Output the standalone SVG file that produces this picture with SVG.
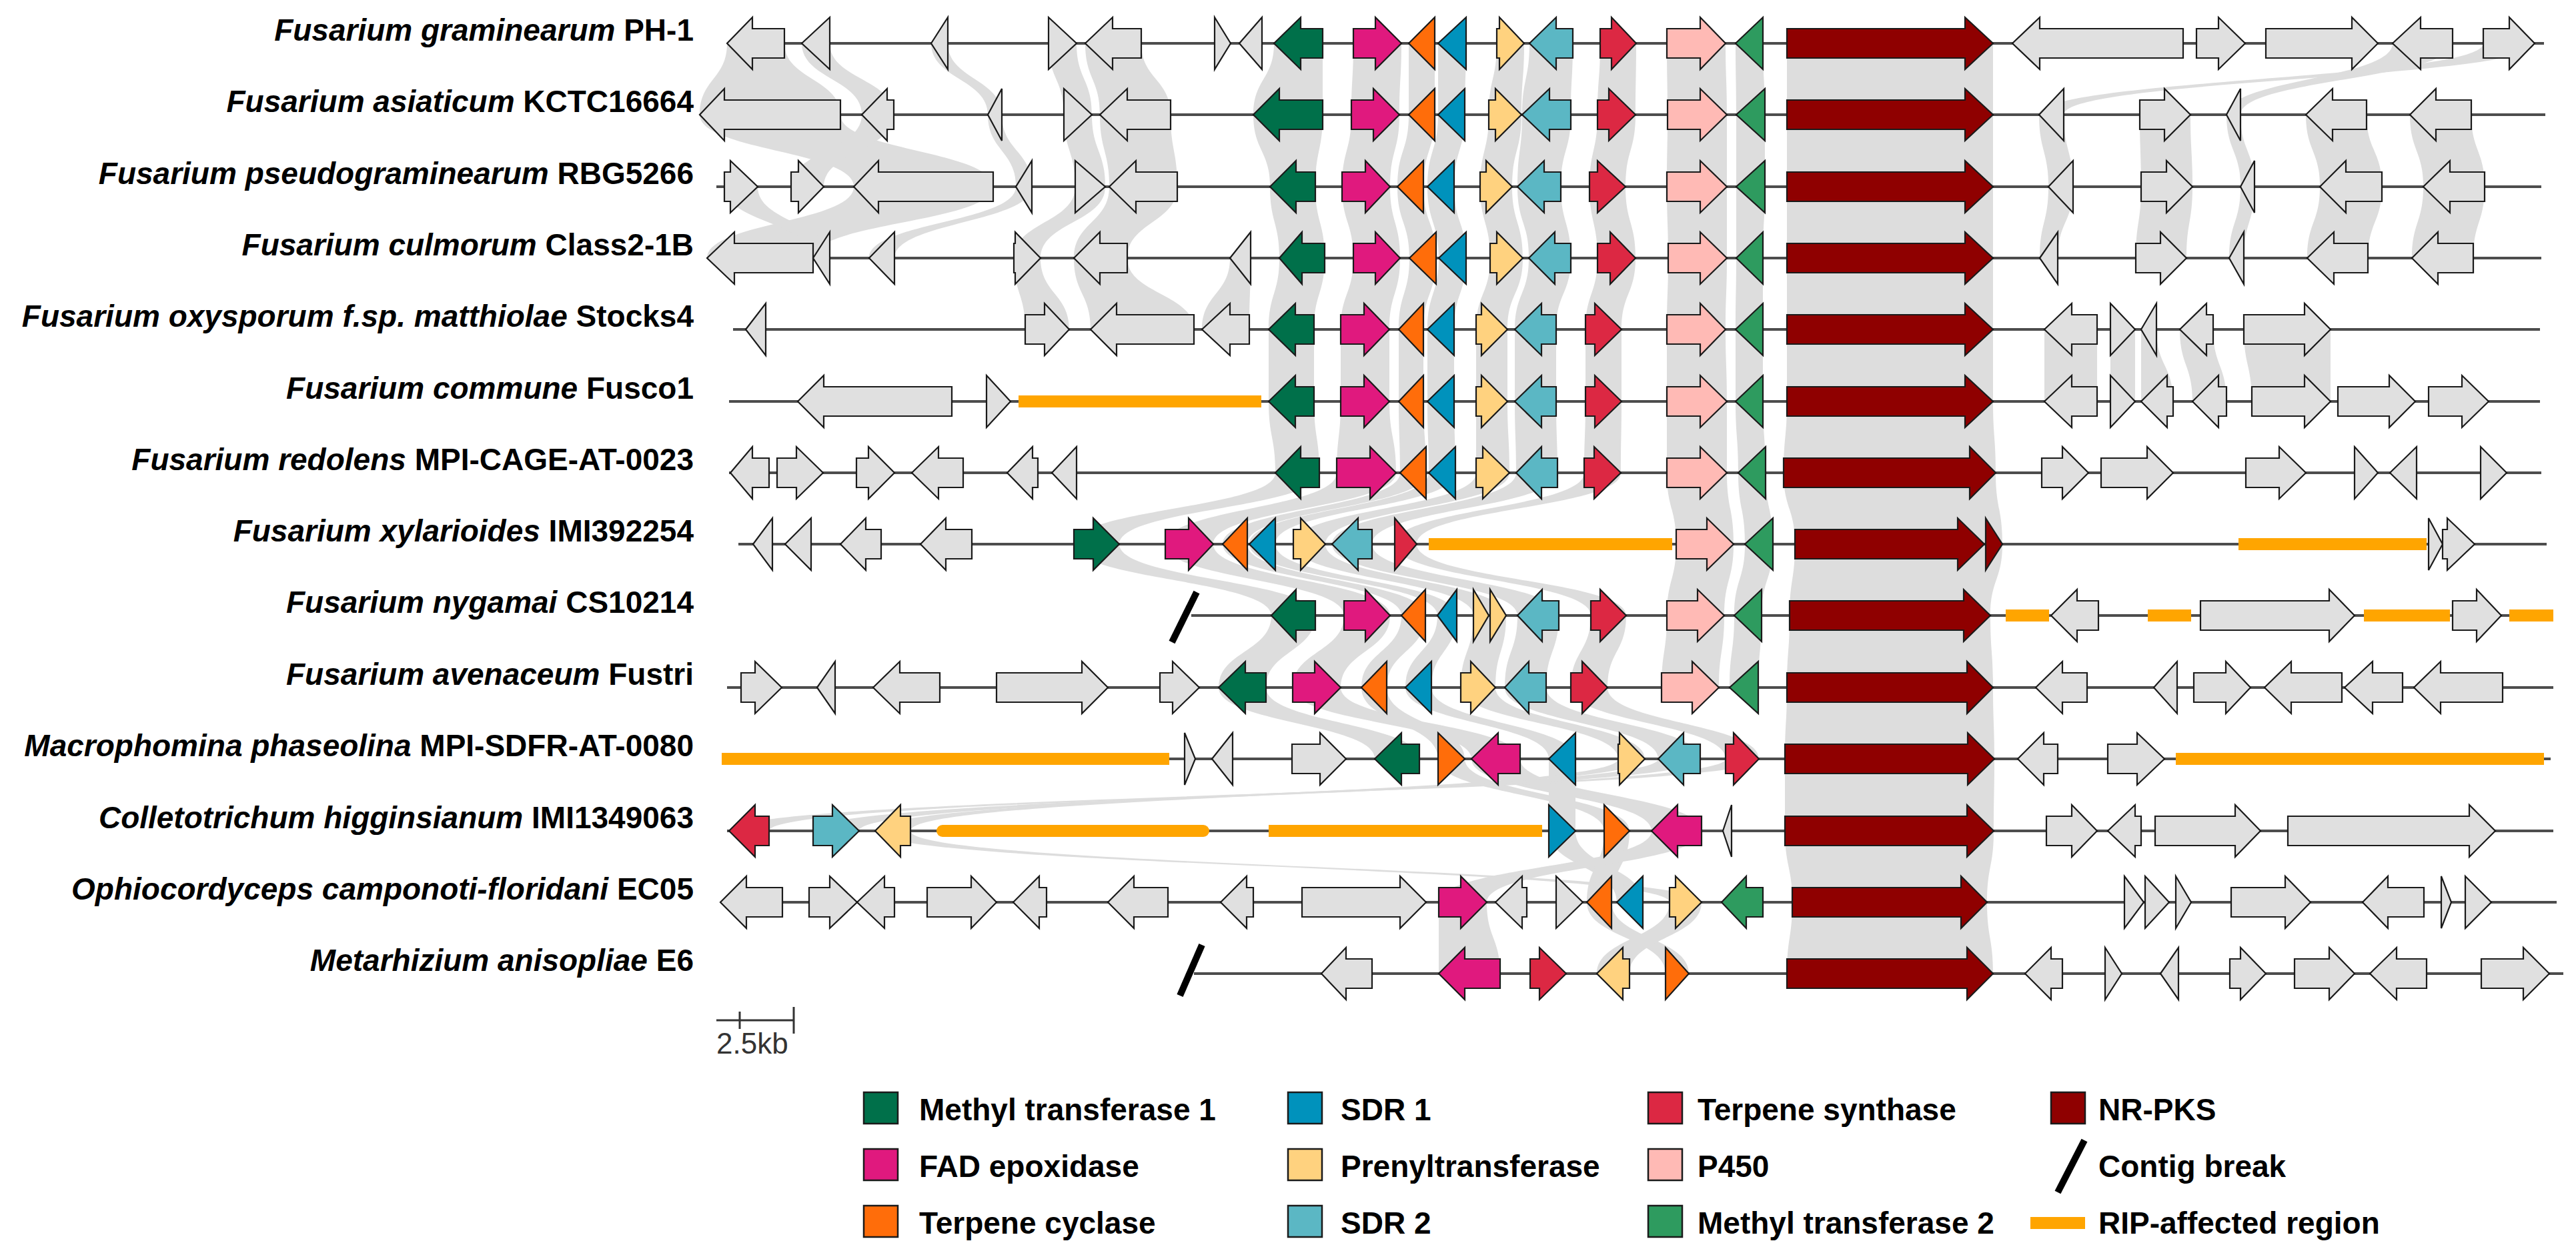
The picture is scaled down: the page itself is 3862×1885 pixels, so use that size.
<svg xmlns="http://www.w3.org/2000/svg" width="3862" height="1885" viewBox="0 0 3862 1885">
<style>
text{font-family:"Liberation Sans",Arial,sans-serif;fill:#000}
.lab{font-size:46px;font-weight:bold;text-anchor:end}
.leg{font-size:46px;font-weight:bold}
.bb{stroke:#4d4d4d;stroke-width:4}
.gene path{stroke:#1a1a1a;stroke-width:2.2;stroke-linejoin:miter}
.g{fill:#e0e0e0}.mt1{fill:#00704a}.fad{fill:#e0197e}.tc{fill:#ff6d0a}.sdr1{fill:#0092bc}.pt{fill:#ffd27f}.sdr2{fill:#5bb7c4}.ts{fill:#dc2843}.p450{fill:#ffbab5}.mt2{fill:#2e9b5f}.pks{fill:#8f0000}
.rip{fill:#ffa500}
.brk{stroke:#000;stroke-width:10}
.band path{fill:#dddddd}
.sw{stroke:#1a1a1a;stroke-width:2.5}
</style>

<g id="connectors" class="band">
<path d="M1090 65H1176C1176 118.5 1260 118.5 1260 172H1049C1049 118.5 1090 118.5 1090 65Z"/>
<path d="M1202 65H1244C1244 118.5 1340 118.5 1340 172H1292C1292 118.5 1202 118.5 1202 65Z"/>
<path d="M1396 65H1421C1421 118.5 1502 118.5 1502 172H1481C1481 118.5 1396 118.5 1396 65Z"/>
<path d="M1572 65H1614C1614 118.5 1637 118.5 1637 172H1595C1595 118.5 1572 118.5 1572 65Z"/>
<path d="M1627 65H1711C1711 118.5 1755 118.5 1755 172H1649C1649 118.5 1627 118.5 1627 65Z"/>
<path d="M1910 65H1983V172H1879C1879 118.5 1910 118.5 1910 65Z"/>
<path d="M2029 65H2101C2101 118.5 2098 118.5 2098 172H2026C2026 118.5 2029 118.5 2029 65Z"/>
<path d="M2112 65H2151V172H2112Z"/>
<path d="M2156 65H2198C2198 118.5 2196 118.5 2196 172H2156Z"/>
<path d="M2244 65H2285C2285 118.5 2281 118.5 2281 172H2232C2232 118.5 2244 118.5 2244 65Z"/>
<path d="M2293 65H2358C2358 118.5 2355 118.5 2355 172H2282C2282 118.5 2293 118.5 2293 65Z"/>
<path d="M2399 65H2453C2453 118.5 2452 118.5 2452 172H2395C2395 118.5 2399 118.5 2399 65Z"/>
<path d="M2499 65H2587C2587 118.5 2589 118.5 2589 172H2500C2500 118.5 2499 118.5 2499 65Z"/>
<path d="M2602 65H2643C2643 118.5 2646 118.5 2646 172H2603C2603 118.5 2602 118.5 2602 65Z"/>
<path d="M2679 65H2988V172H2679Z"/>
<path d="M3723 65H3800C3800 118.5 3094 118.5 3094 172H3057C3057 118.5 3723 118.5 3723 65Z"/>
<path d="M3587 65H3677C3677 118.5 3359 118.5 3359 172H3338C3338 118.5 3587 118.5 3587 65Z"/>

<path d="M1049 172H1260C1260 226 1489 226 1489 280H1280C1280 226 1049 226 1049 172Z"/>
<path d="M1292 172H1340C1340 226 1235 226 1235 280H1186C1186 226 1292 226 1292 172Z"/>
<path d="M1481 172H1502C1502 226 1547 226 1547 280H1523C1523 226 1481 226 1481 172Z"/>
<path d="M1595 172H1637C1637 226 1657 226 1657 280H1612C1612 226 1595 226 1595 172Z"/>
<path d="M1649 172H1755C1755 226 1765 226 1765 280H1663C1663 226 1649 226 1649 172Z"/>
<path d="M1879 172H1983C1983 226 1972 226 1972 280H1904C1904 226 1879 226 1879 172Z"/>
<path d="M2026 172H2098C2098 226 2084 226 2084 280H2012C2012 226 2026 226 2026 172Z"/>
<path d="M2112 172H2151C2151 226 2134 226 2134 280H2095C2095 226 2112 226 2112 172Z"/>
<path d="M2156 172H2196C2196 226 2180 226 2180 280H2140C2140 226 2156 226 2156 172Z"/>
<path d="M2232 172H2281C2281 226 2267 226 2267 280H2219C2219 226 2232 226 2232 172Z"/>
<path d="M2282 172H2355C2355 226 2340 226 2340 280H2275C2275 226 2282 226 2282 172Z"/>
<path d="M2395 172H2452C2452 226 2437 226 2437 280H2383C2383 226 2395 226 2395 172Z"/>
<path d="M2500 172H2589V280H2499C2499 226 2500 226 2500 172Z"/>
<path d="M2603 172H2646V280H2603Z"/>
<path d="M2679 172H2988V280H2679Z"/>
<path d="M3057 172H3094C3094 226 3108 226 3108 280H3071C3071 226 3057 226 3057 172Z"/>
<path d="M3208 172H3284C3284 226 3287 226 3287 280H3210C3210 226 3208 226 3208 172Z"/>
<path d="M3338 172H3359C3359 226 3380 226 3380 280H3359C3359 226 3338 226 3338 172Z"/>
<path d="M3457 172H3548C3548 226 3571 226 3571 280H3478C3478 226 3457 226 3457 172Z"/>
<path d="M3613 172H3705C3705 226 3725 226 3725 280H3633C3633 226 3613 226 3613 172Z"/>

<path d="M1280 280H1489C1489 333.5 1219 333.5 1219 387H1060C1060 333.5 1280 333.5 1280 280Z"/>
<path d="M1086 280H1136C1136 333.5 1244 333.5 1244 387H1219C1219 333.5 1086 333.5 1086 280Z"/>
<path d="M1523 280H1547C1547 333.5 1341 333.5 1341 387H1303C1303 333.5 1523 333.5 1523 280Z"/>
<path d="M1612 280H1657C1657 333.5 1560 333.5 1560 387H1520C1520 333.5 1612 333.5 1612 280Z"/>
<path d="M1663 280H1765C1765 333.5 1690 333.5 1690 387H1610C1610 333.5 1663 333.5 1663 280Z"/>
<path d="M1904 280H1972C1972 333.5 1986 333.5 1986 387H1918C1918 333.5 1904 333.5 1904 280Z"/>
<path d="M2012 280H2084C2084 333.5 2099 333.5 2099 387H2029C2029 333.5 2012 333.5 2012 280Z"/>
<path d="M2095 280H2134C2134 333.5 2153 333.5 2153 387H2113C2113 333.5 2095 333.5 2095 280Z"/>
<path d="M2140 280H2180C2180 333.5 2198 333.5 2198 387H2157C2157 333.5 2140 333.5 2140 280Z"/>
<path d="M2219 280H2267C2267 333.5 2283 333.5 2283 387H2234C2234 333.5 2219 333.5 2219 280Z"/>
<path d="M2275 280H2340C2340 333.5 2355 333.5 2355 387H2292C2292 333.5 2275 333.5 2275 280Z"/>
<path d="M2383 280H2437C2437 333.5 2452 333.5 2452 387H2395C2395 333.5 2383 333.5 2383 280Z"/>
<path d="M2499 280H2589V387H2501C2501 333.5 2499 333.5 2499 280Z"/>
<path d="M2603 280H2646C2646 333.5 2643 333.5 2643 387H2603Z"/>
<path d="M2679 280H2988V387H2679Z"/>
<path d="M3071 280H3108C3108 333.5 3085 333.5 3085 387H3058C3058 333.5 3071 333.5 3071 280Z"/>
<path d="M3210 280H3287C3287 333.5 3278 333.5 3278 387H3202C3202 333.5 3210 333.5 3210 280Z"/>
<path d="M3359 280H3380C3380 333.5 3364 333.5 3364 387H3342C3342 333.5 3359 333.5 3359 280Z"/>
<path d="M3478 280H3571C3571 333.5 3550 333.5 3550 387H3459C3459 333.5 3478 333.5 3478 280Z"/>
<path d="M3633 280H3725C3725 333.5 3708 333.5 3708 387H3616C3616 333.5 3633 333.5 3633 280Z"/>

<path d="M1520 387H1560C1560 440.5 1603 440.5 1603 494H1537C1537 440.5 1520 440.5 1520 387Z"/>
<path d="M1610 387H1690C1690 440.5 1790 440.5 1790 494H1635C1635 440.5 1610 440.5 1610 387Z"/>
<path d="M1844 387H1875C1875 440.5 1873 440.5 1873 494H1802C1802 440.5 1844 440.5 1844 387Z"/>
<path d="M1918 387H1986C1986 440.5 1970 440.5 1970 494H1902C1902 440.5 1918 440.5 1918 387Z"/>
<path d="M2029 387H2099C2099 440.5 2083 440.5 2083 494H2010C2010 440.5 2029 440.5 2029 387Z"/>
<path d="M2113 387H2153C2153 440.5 2134 440.5 2134 494H2097C2097 440.5 2113 440.5 2113 387Z"/>
<path d="M2157 387H2198C2198 440.5 2180 440.5 2180 494H2140C2140 440.5 2157 440.5 2157 387Z"/>
<path d="M2234 387H2283C2283 440.5 2260 440.5 2260 494H2213C2213 440.5 2234 440.5 2234 387Z"/>
<path d="M2292 387H2355C2355 440.5 2333 440.5 2333 494H2271C2271 440.5 2292 440.5 2292 387Z"/>
<path d="M2395 387H2452C2452 440.5 2431 440.5 2431 494H2377C2377 440.5 2395 440.5 2395 387Z"/>
<path d="M2501 387H2589C2589 440.5 2587 440.5 2587 494H2499C2499 440.5 2501 440.5 2501 387Z"/>
<path d="M2603 387H2643V494H2602C2602 440.5 2603 440.5 2603 387Z"/>
<path d="M2679 387H2988V494H2679Z"/>

<path d="M1902 494H1970V602H1902Z"/>
<path d="M2010 494H2083V602H2010Z"/>
<path d="M2097 494H2134V602H2097Z"/>
<path d="M2140 494H2180V602H2140Z"/>
<path d="M2213 494H2260V602H2213Z"/>
<path d="M2271 494H2333V602H2271Z"/>
<path d="M2377 494H2431V602H2377Z"/>
<path d="M2499 494H2587C2587 548 2589 548 2589 602H2499Z"/>
<path d="M2602 494H2643V602H2602Z"/>
<path d="M2679 494H2988V602H2679Z"/>
<path d="M3065 494H3144V602H3065Z"/>
<path d="M3164 494H3201V602H3164Z"/>
<path d="M3210 494H3233C3233 548 3258 548 3258 602H3210Z"/>
<path d="M3268 494H3318C3318 548 3338 548 3338 602H3287C3287 548 3268 548 3268 494Z"/>
<path d="M3364 494H3494V602H3376C3376 548 3364 548 3364 494Z"/>

<path d="M1902 602H1970C1970 655.5 1978 655.5 1978 709H1912C1912 655.5 1902 655.5 1902 602Z"/>
<path d="M2010 602H2083C2083 655.5 2093 655.5 2093 709H2004C2004 655.5 2010 655.5 2010 602Z"/>
<path d="M2097 602H2134C2134 655.5 2138 655.5 2138 709H2099C2099 655.5 2097 655.5 2097 602Z"/>
<path d="M2140 602H2180C2180 655.5 2182 655.5 2182 709H2142C2142 655.5 2140 655.5 2140 602Z"/>
<path d="M2213 602H2260C2260 655.5 2263 655.5 2263 709H2213Z"/>
<path d="M2271 602H2333C2333 655.5 2335 655.5 2335 709H2273C2273 655.5 2271 655.5 2271 602Z"/>
<path d="M2377 602H2431C2431 655.5 2430 655.5 2430 709H2375C2375 655.5 2377 655.5 2377 602Z"/>
<path d="M2499 602H2589V709H2499Z"/>
<path d="M2602 602H2643C2643 655.5 2647 655.5 2647 709H2606C2606 655.5 2602 655.5 2602 602Z"/>
<path d="M2679 602H2988C2988 655.5 2992 655.5 2992 709H2674C2674 655.5 2679 655.5 2679 602Z"/>

<path d="M1912 709H1978C1978 762.5 1678 762.5 1678 816H1610C1610 762.5 1912 762.5 1912 709Z"/>
<path d="M2004 709H2093C2093 762.5 1819 762.5 1819 816H1747C1747 762.5 2004 762.5 2004 709Z"/>
<path d="M2099 709H2138C2138 762.5 1870 762.5 1870 816H1833C1833 762.5 2099 762.5 2099 709Z"/>
<path d="M2142 709H2182C2182 762.5 1912 762.5 1912 816H1873C1873 762.5 2142 762.5 2142 709Z"/>
<path d="M2213 709H2263C2263 762.5 1987 762.5 1987 816H1939C1939 762.5 2213 762.5 2213 709Z"/>
<path d="M2273 709H2335C2335 762.5 2057 762.5 2057 816H1997C1997 762.5 2273 762.5 2273 709Z"/>
<path d="M2375 709H2430C2430 762.5 2124 762.5 2124 816H2091C2091 762.5 2375 762.5 2375 709Z"/>
<path d="M2499 709H2589C2589 762.5 2599 762.5 2599 816H2513C2513 762.5 2499 762.5 2499 709Z"/>
<path d="M2606 709H2647C2647 762.5 2658 762.5 2658 816H2616C2616 762.5 2606 762.5 2606 709Z"/>
<path d="M2674 709H2992C2992 762.5 3002 762.5 3002 816H2691C2691 762.5 2674 762.5 2674 709Z"/>

<path d="M1610 816H1678C1678 869.5 1972 869.5 1972 923H1906C1906 869.5 1610 869.5 1610 816Z"/>
<path d="M1747 816H1819C1819 869.5 2084 869.5 2084 923H2015C2015 869.5 1747 869.5 1747 816Z"/>
<path d="M1833 816H1870C1870 869.5 2137 869.5 2137 923H2101C2101 869.5 1833 869.5 1833 816Z"/>
<path d="M1873 816H1912C1912 869.5 2184 869.5 2184 923H2155C2155 869.5 1873 869.5 1873 816Z"/>
<path d="M1939 816H1987C1987 869.5 2258 869.5 2258 923H2209C2209 869.5 1939 869.5 1939 816Z"/>
<path d="M1997 816H2057C2057 869.5 2337 869.5 2337 923H2275C2275 869.5 1997 869.5 1997 816Z"/>
<path d="M2091 816H2124C2124 869.5 2438 869.5 2438 923H2385C2385 869.5 2091 869.5 2091 816Z"/>
<path d="M2513 816H2599C2599 869.5 2585 869.5 2585 923H2499C2499 869.5 2513 869.5 2513 816Z"/>
<path d="M2616 816H2658C2658 869.5 2641 869.5 2641 923H2600C2600 869.5 2616 869.5 2616 816Z"/>
<path d="M2691 816H3002C3002 869.5 2984 869.5 2984 923H2683C2683 869.5 2691 869.5 2691 816Z"/>

<path d="M1906 923H1972C1972 977 1898 977 1898 1031H1827C1827 977 1906 977 1906 923Z"/>
<path d="M2015 923H2084C2084 977 2010 977 2010 1031H1938C1938 977 2015 977 2015 923Z"/>
<path d="M2101 923H2137C2137 977 2079 977 2079 1031H2041C2041 977 2101 977 2101 923Z"/>
<path d="M2155 923H2184C2184 977 2146 977 2146 1031H2107C2107 977 2155 977 2155 923Z"/>
<path d="M2209 923H2258C2258 977 2242 977 2242 1031H2190C2190 977 2209 977 2209 923Z"/>
<path d="M2275 923H2337C2337 977 2318 977 2318 1031H2256C2256 977 2275 977 2275 923Z"/>
<path d="M2385 923H2438C2438 977 2410 977 2410 1031H2355C2355 977 2385 977 2385 923Z"/>
<path d="M2499 923H2585C2585 977 2577 977 2577 1031H2491C2491 977 2499 977 2499 923Z"/>
<path d="M2600 923H2641C2641 977 2636 977 2636 1031H2593C2593 977 2600 977 2600 923Z"/>
<path d="M2683 923H2984C2984 977 2988 977 2988 1031H2679C2679 977 2683 977 2683 923Z"/>

<path d="M1827 1031H1898C1898 1084.5 2128 1084.5 2128 1138H2061C2061 1084.5 1827 1084.5 1827 1031Z"/>
<path d="M1938 1031H2010C2010 1084.5 2279 1084.5 2279 1138H2206C2206 1084.5 1938 1084.5 1938 1031Z"/>
<path d="M2041 1031H2079C2079 1084.5 2196 1084.5 2196 1138H2156C2156 1084.5 2041 1084.5 2041 1031Z"/>
<path d="M2107 1031H2146C2146 1084.5 2362 1084.5 2362 1138H2322C2322 1084.5 2107 1084.5 2107 1031Z"/>
<path d="M2190 1031H2242C2242 1084.5 2466 1084.5 2466 1138H2426C2426 1084.5 2190 1084.5 2190 1031Z"/>
<path d="M2256 1031H2318C2318 1084.5 2549 1084.5 2549 1138H2486C2486 1084.5 2256 1084.5 2256 1031Z"/>
<path d="M2355 1031H2410C2410 1084.5 2637 1084.5 2637 1138H2587C2587 1084.5 2355 1084.5 2355 1031Z"/>
<path d="M2679 1031H2988C2988 1084.5 2990 1084.5 2990 1138H2676C2676 1084.5 2679 1084.5 2679 1031Z"/>

<path d="M2156 1138H2196C2196 1192 2443 1192 2443 1246H2405C2405 1192 2156 1192 2156 1138Z"/>
<path d="M2206 1138H2279C2279 1192 2551 1192 2551 1246H2476C2476 1192 2206 1192 2206 1138Z"/>
<path d="M2322 1138H2362V1246H2322Z"/>
<path d="M2426 1138H2466C2466 1192 1365 1192 1365 1246H1312C1312 1192 2426 1192 2426 1138Z"/>
<path d="M2486 1138H2549C2549 1192 1288 1192 1288 1246H1219C1219 1192 2486 1192 2486 1138Z"/>
<path d="M2587 1138H2637C2637 1192 1153 1192 1153 1246H1093C1093 1192 2587 1192 2587 1138Z"/>
<path d="M2676 1138H2990C2990 1192 2989 1192 2989 1246H2676Z"/>

<path d="M2322 1246H2362C2362 1299.5 2463 1299.5 2463 1353H2424C2424 1299.5 2322 1299.5 2322 1246Z"/>
<path d="M2405 1246H2443C2443 1299.5 2416 1299.5 2416 1353H2379C2379 1299.5 2405 1299.5 2405 1246Z"/>
<path d="M2476 1246H2551C2551 1299.5 2229 1299.5 2229 1353H2157C2157 1299.5 2476 1299.5 2476 1246Z"/>
<path d="M1312 1246H1365C1365 1299.5 2551 1299.5 2551 1353H2503C2503 1299.5 1312 1299.5 1312 1246Z"/>
<path d="M2676 1246H2989C2989 1299.5 2979 1299.5 2979 1353H2687C2687 1299.5 2676 1299.5 2676 1246Z"/>

<path d="M2157 1353H2229C2229 1406.5 2249 1406.5 2249 1460H2157Z"/>
<path d="M2379 1353H2416C2416 1406.5 2532 1406.5 2532 1460H2497C2497 1406.5 2379 1406.5 2379 1353Z"/>
<path d="M2503 1353H2551C2551 1406.5 2443 1406.5 2443 1460H2394C2394 1406.5 2503 1406.5 2503 1353Z"/>
<path d="M2687 1353H2979C2979 1406.5 2988 1406.5 2988 1460H2679C2679 1406.5 2687 1406.5 2687 1353Z"/>
</g>

<g id="row1" class="gene">
<text class="lab" x="1040" y="61"><tspan font-style="italic">Fusarium graminearum</tspan> PH-1</text>
<g transform="translate(0,65)">
<line class="bb" x1="1090" y1="0" x2="3814" y2="0"/>
<path class="g" d="M1090 0L1128 -39V-22H1176V22H1128V39Z"/>
<path class="g" d="M1202 0L1244 -39V39Z"/>
<path class="g" d="M1396 0L1421 -39V39Z"/>
<path class="g" d="M1572 -39L1614 0L1572 39Z"/>
<path class="g" d="M1627 0L1668 -39V-22H1711V22H1668V39Z"/>
<path class="g" d="M1821 -39L1845 0L1821 39Z"/>
<path class="g" d="M1858 0L1892 -39V39Z"/>
<path class="mt1" d="M1910 0L1950 -39V-22H1983V22H1950V39Z"/>
<path class="fad" d="M2029 -22H2062V-39L2101 0L2062 39V22H2029Z"/>
<path class="tc" d="M2112 0L2151 -39V39Z"/>
<path class="sdr1" d="M2156 0L2198 -39V39Z"/>
<path class="pt" d="M2244 -22H2248V-39L2285 0L2248 39V22H2244Z"/>
<path class="sdr2" d="M2293 0L2333 -39V-22H2358V22H2333V39Z"/>
<path class="ts" d="M2399 -22H2416V-39L2453 0L2416 39V22H2399Z"/>
<path class="p450" d="M2499 -22H2549V-39L2587 0L2549 39V22H2499Z"/>
<path class="mt2" d="M2602 0L2643 -39V39Z"/>
<path class="pks" d="M2679 -22H2946V-39L2988 0L2946 39V22H2679Z"/>
<path class="g" d="M3017 0L3058 -39V-22H3273V22H3058V39Z"/>
<path class="g" d="M3293 -22H3326V-39L3366 0L3326 39V22H3293Z"/>
<path class="g" d="M3397 -22H3526V-39L3565 0L3526 39V22H3397Z"/>
<path class="g" d="M3587 0L3629 -39V-22H3677V22H3629V39Z"/>
<path class="g" d="M3723 -22H3762V-39L3800 0L3762 39V22H3723Z"/>
</g></g>

<g id="row2" class="gene">
<text class="lab" x="1040" y="168"><tspan font-style="italic">Fusarium asiaticum</tspan> KCTC16664</text>
<g transform="translate(0,172)">
<line class="bb" x1="1049" y1="0" x2="3816" y2="0"/>
<path class="g" d="M1049 0L1086 -39V-22H1260V22H1086V39Z"/>
<path class="g" d="M1292 0L1330 -39V-22H1340V22H1330V39Z"/>
<path class="g" d="M1481 0L1502 -39V39Z"/>
<path class="g" d="M1595 -39L1637 0L1595 39Z"/>
<path class="g" d="M1649 0L1690 -39V-22H1755V22H1690V39Z"/>
<path class="mt1" d="M1879 0L1918 -39V-22H1983V22H1918V39Z"/>
<path class="fad" d="M2026 -22H2059V-39L2098 0L2059 39V22H2026Z"/>
<path class="tc" d="M2112 0L2151 -39V39Z"/>
<path class="sdr1" d="M2156 0L2196 -39V39Z"/>
<path class="pt" d="M2232 -22H2242V-39L2281 0L2242 39V22H2232Z"/>
<path class="sdr2" d="M2282 0L2323 -39V-22H2355V22H2323V39Z"/>
<path class="ts" d="M2395 -22H2412V-39L2452 0L2412 39V22H2395Z"/>
<path class="p450" d="M2500 -22H2549V-39L2589 0L2549 39V22H2500Z"/>
<path class="mt2" d="M2603 0L2646 -39V39Z"/>
<path class="pks" d="M2679 -22H2946V-39L2988 0L2946 39V22H2679Z"/>
<path class="g" d="M3057 0L3094 -39V39Z"/>
<path class="g" d="M3208 -22H3245V-39L3284 0L3245 39V22H3208Z"/>
<path class="g" d="M3338 0L3359 -39V39Z"/>
<path class="g" d="M3457 0L3497 -39V-22H3548V22H3497V39Z"/>
<path class="g" d="M3613 0L3652 -39V-22H3705V22H3652V39Z"/>
</g></g>

<g id="row3" class="gene">
<text class="lab" x="1040" y="276"><tspan font-style="italic">Fusarium pseudograminearum</tspan> RBG5266</text>
<g transform="translate(0,280)">
<line class="bb" x1="1074" y1="0" x2="3810" y2="0"/>
<path class="g" d="M1086 -22H1095V-39L1136 0L1095 39V22H1086Z"/>
<path class="g" d="M1186 -22H1197V-39L1235 0L1197 39V22H1186Z"/>
<path class="g" d="M1280 0L1317 -39V-22H1489V22H1317V39Z"/>
<path class="g" d="M1523 0L1547 -39V39Z"/>
<path class="g" d="M1612 -39L1657 0L1612 39Z"/>
<path class="g" d="M1663 0L1703 -39V-22H1765V22H1703V39Z"/>
<path class="mt1" d="M1904 0L1943 -39V-22H1972V22H1943V39Z"/>
<path class="fad" d="M2012 -22H2047V-39L2084 0L2047 39V22H2012Z"/>
<path class="tc" d="M2095 0L2134 -39V39Z"/>
<path class="sdr1" d="M2140 0L2180 -39V39Z"/>
<path class="pt" d="M2219 -22H2228V-39L2267 0L2228 39V22H2219Z"/>
<path class="sdr2" d="M2275 0L2315 -39V-22H2340V22H2315V39Z"/>
<path class="ts" d="M2383 -22H2395V-39L2437 0L2395 39V22H2383Z"/>
<path class="p450" d="M2499 -22H2549V-39L2589 0L2549 39V22H2499Z"/>
<path class="mt2" d="M2603 0L2646 -39V39Z"/>
<path class="pks" d="M2679 -22H2946V-39L2988 0L2946 39V22H2679Z"/>
<path class="g" d="M3071 0L3108 -39V39Z"/>
<path class="g" d="M3210 -22H3248V-39L3287 0L3248 39V22H3210Z"/>
<path class="g" d="M3359 0L3380 -39V39Z"/>
<path class="g" d="M3478 0L3517 -39V-22H3571V22H3517V39Z"/>
<path class="g" d="M3633 0L3673 -39V-22H3725V22H3673V39Z"/>
</g></g>

<g id="row4" class="gene">
<text class="lab" x="1040" y="383"><tspan font-style="italic">Fusarium culmorum</tspan> Class2-1B</text>
<g transform="translate(0,387)">
<line class="bb" x1="1060" y1="0" x2="3810" y2="0"/>
<path class="g" d="M1060 0L1101 -39V-22H1219V22H1101V39Z"/>
<path class="g" d="M1219 0L1244 -39V39Z"/>
<path class="g" d="M1303 0L1341 -39V39Z"/>
<path class="g" d="M1520 -22H1522V-39L1560 0L1522 39V22H1520Z"/>
<path class="g" d="M1610 0L1649 -39V-22H1690V22H1649V39Z"/>
<path class="g" d="M1844 0L1875 -39V39Z"/>
<path class="mt1" d="M1918 0L1952 -39V-22H1986V22H1952V39Z"/>
<path class="fad" d="M2029 -22H2062V-39L2099 0L2062 39V22H2029Z"/>
<path class="tc" d="M2113 0L2153 -39V39Z"/>
<path class="sdr1" d="M2157 0L2198 -39V39Z"/>
<path class="pt" d="M2234 -22H2244V-39L2283 0L2244 39V22H2234Z"/>
<path class="sdr2" d="M2292 0L2331 -39V-22H2355V22H2331V39Z"/>
<path class="ts" d="M2395 -22H2414V-39L2452 0L2414 39V22H2395Z"/>
<path class="p450" d="M2501 -22H2549V-39L2589 0L2549 39V22H2501Z"/>
<path class="mt2" d="M2603 0L2643 -39V39Z"/>
<path class="pks" d="M2679 -22H2946V-39L2988 0L2946 39V22H2679Z"/>
<path class="g" d="M3058 0L3085 -39V39Z"/>
<path class="g" d="M3202 -22H3239V-39L3278 0L3239 39V22H3202Z"/>
<path class="g" d="M3342 0L3364 -39V39Z"/>
<path class="g" d="M3459 0L3499 -39V-22H3550V22H3499V39Z"/>
<path class="g" d="M3616 0L3655 -39V-22H3708V22H3655V39Z"/>
</g></g>

<g id="row5" class="gene">
<text class="lab" x="1040" y="490"><tspan font-style="italic">Fusarium oxysporum f.sp. matthiolae</tspan> Stocks4</text>
<g transform="translate(0,494)">
<line class="bb" x1="1099" y1="0" x2="3808" y2="0"/>
<path class="g" d="M1118 0L1148 -39V39Z"/>
<path class="g" d="M1537 -22H1566V-39L1603 0L1566 39V22H1537Z"/>
<path class="g" d="M1635 0L1674 -39V-22H1790V22H1674V39Z"/>
<path class="g" d="M1802 0L1844 -39V-22H1873V22H1844V39Z"/>
<path class="mt1" d="M1902 0L1942 -39V-22H1970V22H1942V39Z"/>
<path class="fad" d="M2010 -22H2045V-39L2083 0L2045 39V22H2010Z"/>
<path class="tc" d="M2097 0L2134 -39V39Z"/>
<path class="sdr1" d="M2140 0L2180 -39V39Z"/>
<path class="pt" d="M2213 -22H2221V-39L2260 0L2221 39V22H2213Z"/>
<path class="sdr2" d="M2271 0L2311 -39V-22H2333V22H2311V39Z"/>
<path class="ts" d="M2377 -22H2391V-39L2431 0L2391 39V22H2377Z"/>
<path class="p450" d="M2499 -22H2549V-39L2587 0L2549 39V22H2499Z"/>
<path class="mt2" d="M2602 0L2643 -39V39Z"/>
<path class="pks" d="M2679 -22H2946V-39L2988 0L2946 39V22H2679Z"/>
<path class="g" d="M3065 0L3106 -39V-22H3144V22H3106V39Z"/>
<path class="g" d="M3164 -39L3201 0L3164 39Z"/>
<path class="g" d="M3210 0L3233 -39V39Z"/>
<path class="g" d="M3268 0L3308 -39V-22H3318V22H3308V39Z"/>
<path class="g" d="M3364 -22H3455V-39L3494 0L3455 39V22H3364Z"/>
</g></g>

<g id="row6" class="gene">
<text class="lab" x="1040" y="598"><tspan font-style="italic">Fusarium commune</tspan> Fusco1</text>
<g transform="translate(0,602)">
<line class="bb" x1="1093" y1="0" x2="3808" y2="0"/>
<path class="g" d="M1196 0L1235 -39V-22H1427V22H1235V39Z"/>
<path class="g" d="M1479 -39L1515 0L1479 39Z"/>
<rect class="rip" x="1527" y="-9" width="364" height="18"/>
<path class="mt1" d="M1902 0L1942 -39V-22H1970V22H1942V39Z"/>
<path class="fad" d="M2010 -22H2045V-39L2083 0L2045 39V22H2010Z"/>
<path class="tc" d="M2097 0L2134 -39V39Z"/>
<path class="sdr1" d="M2140 0L2180 -39V39Z"/>
<path class="pt" d="M2213 -22H2221V-39L2260 0L2221 39V22H2213Z"/>
<path class="sdr2" d="M2271 0L2311 -39V-22H2333V22H2311V39Z"/>
<path class="ts" d="M2377 -22H2391V-39L2431 0L2391 39V22H2377Z"/>
<path class="p450" d="M2499 -22H2549V-39L2589 0L2549 39V22H2499Z"/>
<path class="mt2" d="M2602 0L2643 -39V39Z"/>
<path class="pks" d="M2679 -22H2946V-39L2988 0L2946 39V22H2679Z"/>
<path class="g" d="M3065 0L3106 -39V-22H3144V22H3106V39Z"/>
<path class="g" d="M3164 -39L3201 0L3164 39Z"/>
<path class="g" d="M3210 0L3249 -39V-22H3258V22H3249V39Z"/>
<path class="g" d="M3287 0L3326 -39V-22H3338V22H3326V39Z"/>
<path class="g" d="M3376 -22H3455V-39L3494 0L3455 39V22H3376Z"/>
<path class="g" d="M3505 -22H3582V-39L3621 0L3582 39V22H3505Z"/>
<path class="g" d="M3641 -22H3691V-39L3731 0L3691 39V22H3641Z"/>
</g></g>

<g id="row7" class="gene">
<text class="lab" x="1040" y="705"><tspan font-style="italic">Fusarium redolens</tspan> MPI-CAGE-AT-0023</text>
<g transform="translate(0,709)">
<line class="bb" x1="1093" y1="0" x2="3810" y2="0"/>
<path class="g" d="M1095 0L1128 -39V-22H1153V22H1128V39Z"/>
<path class="g" d="M1165 -22H1194V-39L1234 0L1194 39V22H1165Z"/>
<path class="g" d="M1284 -22H1302V-39L1341 0L1302 39V22H1284Z"/>
<path class="g" d="M1367 0L1407 -39V-22H1444V22H1407V39Z"/>
<path class="g" d="M1510 0L1548 -39V-22H1556V22H1548V39Z"/>
<path class="g" d="M1577 0L1614 -39V39Z"/>
<path class="mt1" d="M1912 0L1950 -39V-22H1978V22H1950V39Z"/>
<path class="fad" d="M2004 -22H2054V-39L2093 0L2054 39V22H2004Z"/>
<path class="tc" d="M2099 0L2138 -39V39Z"/>
<path class="sdr1" d="M2142 0L2182 -39V39Z"/>
<path class="pt" d="M2213 -22H2223V-39L2263 0L2223 39V22H2213Z"/>
<path class="sdr2" d="M2273 0L2311 -39V-22H2335V22H2311V39Z"/>
<path class="ts" d="M2375 -22H2390V-39L2430 0L2390 39V22H2375Z"/>
<path class="p450" d="M2499 -22H2549V-39L2589 0L2549 39V22H2499Z"/>
<path class="mt2" d="M2606 0L2647 -39V39Z"/>
<path class="pks" d="M2674 -22H2953V-39L2992 0L2953 39V22H2674Z"/>
<path class="g" d="M3061 -22H3092V-39L3131 0L3092 39V22H3061Z"/>
<path class="g" d="M3150 -22H3219V-39L3258 0L3219 39V22H3150Z"/>
<path class="g" d="M3367 -22H3417V-39L3457 0L3417 39V22H3367Z"/>
<path class="g" d="M3530 -39L3565 0L3530 39Z"/>
<path class="g" d="M3583 0L3623 -39V39Z"/>
<path class="g" d="M3719 -39L3758 0L3719 39Z"/>
</g></g>

<g id="row8" class="gene">
<text class="lab" x="1040" y="812"><tspan font-style="italic">Fusarium xylarioides</tspan> IMI392254</text>
<g transform="translate(0,816)">
<line class="bb" x1="1107" y1="0" x2="3818" y2="0"/>
<path class="g" d="M1129 0L1158 -39V39Z"/>
<path class="g" d="M1177 0L1216 -39V39Z"/>
<path class="g" d="M1260 0L1298 -39V-22H1321V22H1298V39Z"/>
<path class="g" d="M1380 0L1418 -39V-22H1457V22H1418V39Z"/>
<path class="mt1" d="M1610 -22H1639V-39L1678 0L1639 39V22H1610Z"/>
<path class="fad" d="M1747 -22H1782V-39L1819 0L1782 39V22H1747Z"/>
<path class="tc" d="M1833 0L1870 -39V39Z"/>
<path class="sdr1" d="M1873 0L1912 -39V39Z"/>
<path class="pt" d="M1939 -22H1950V-39L1987 0L1950 39V22H1939Z"/>
<path class="sdr2" d="M1997 0L2036 -39V-22H2057V22H2036V39Z"/>
<path class="ts" d="M2091 -39L2124 0L2091 39Z"/>
<rect class="rip" x="2142" y="-9" width="365" height="18"/>
<path class="p450" d="M2513 -22H2559V-39L2599 0L2559 39V22H2513Z"/>
<path class="mt2" d="M2616 0L2658 -39V39Z"/>
<path class="pks" d="M2691 -22H2935V-39L2975 0L2935 39V22H2691Z"/>
<path class="pks" d="M2977 -39L3002 0L2977 39Z"/>
<rect class="rip" x="3356" y="-9" width="282" height="18"/>
<path class="g" d="M3641 -39L3662 0L3641 39Z"/>
<path class="g" d="M3662 -22H3669V-39L3710 0L3669 39V22H3662Z"/>
</g></g>

<g id="row9" class="gene">
<text class="lab" x="1040" y="919"><tspan font-style="italic">Fusarium nygamai</tspan> CS10214</text>
<line class="brk" x1="1794" y1="888" x2="1757" y2="963"/>
<g transform="translate(0,923)">
<line class="bb" x1="1786" y1="0" x2="3828" y2="0"/>
<path class="mt1" d="M1906 0L1943 -39V-22H1972V22H1943V39Z"/>
<path class="fad" d="M2015 -22H2047V-39L2084 0L2047 39V22H2015Z"/>
<path class="tc" d="M2101 0L2137 -39V39Z"/>
<path class="sdr1" d="M2155 0L2184 -39V39Z"/>
<path class="pt" d="M2209 -39L2232 0L2209 39Z"/>
<path class="pt" d="M2234 -39L2258 0L2234 39Z"/>
<path class="sdr2" d="M2275 0L2312 -39V-22H2337V22H2312V39Z"/>
<path class="ts" d="M2385 -22H2399V-39L2438 0L2399 39V22H2385Z"/>
<path class="p450" d="M2499 -22H2545V-39L2585 0L2545 39V22H2499Z"/>
<path class="mt2" d="M2600 0L2641 -39V39Z"/>
<path class="pks" d="M2683 -22H2944V-39L2984 0L2944 39V22H2683Z"/>
<rect class="rip" x="3007" y="-9" width="65" height="18"/>
<path class="g" d="M3075 0L3114 -39V-22H3146V22H3114V39Z"/>
<rect class="rip" x="3220" y="-9" width="65" height="18"/>
<path class="g" d="M3299 -22H3492V-39L3530 0L3492 39V22H3299Z"/>
<rect class="rip" x="3544" y="-9" width="129" height="18"/>
<path class="g" d="M3677 -22H3713V-39L3750 0L3713 39V22H3677Z"/>
<rect class="rip" x="3762" y="-9" width="66" height="18"/>
</g></g>

<g id="row10" class="gene">
<text class="lab" x="1040" y="1027"><tspan font-style="italic">Fusarium avenaceum</tspan> Fustri</text>
<g transform="translate(0,1031)">
<line class="bb" x1="1090" y1="0" x2="3828" y2="0"/>
<path class="g" d="M1111 -22H1132V-39L1172 0L1132 39V22H1111Z"/>
<path class="g" d="M1225 0L1252 -39V39Z"/>
<path class="g" d="M1309 0L1349 -39V-22H1409V22H1349V39Z"/>
<path class="g" d="M1494 -22H1622V-39L1661 0L1622 39V22H1494Z"/>
<path class="g" d="M1739 -22H1758V-39L1798 0L1758 39V22H1739Z"/>
<path class="mt1" d="M1827 0L1867 -39V-22H1898V22H1867V39Z"/>
<path class="fad" d="M1938 -22H1971V-39L2010 0L1971 39V22H1938Z"/>
<path class="tc" d="M2041 0L2079 -39V39Z"/>
<path class="sdr1" d="M2107 0L2146 -39V39Z"/>
<path class="pt" d="M2190 -22H2205V-39L2242 0L2205 39V22H2190Z"/>
<path class="sdr2" d="M2256 0L2292 -39V-22H2318V22H2292V39Z"/>
<path class="ts" d="M2355 -22H2372V-39L2410 0L2372 39V22H2355Z"/>
<path class="p450" d="M2491 -22H2537V-39L2577 0L2537 39V22H2491Z"/>
<path class="mt2" d="M2593 0L2636 -39V39Z"/>
<path class="pks" d="M2679 -22H2949V-39L2988 0L2949 39V22H2679Z"/>
<path class="g" d="M3052 0L3092 -39V-22H3129V22H3092V39Z"/>
<path class="g" d="M3229 0L3264 -39V39Z"/>
<path class="g" d="M3289 -22H3337V-39L3374 0L3337 39V22H3289Z"/>
<path class="g" d="M3395 0L3435 -39V-22H3511V22H3435V39Z"/>
<path class="g" d="M3515 0L3557 -39V-22H3602V22H3557V39Z"/>
<path class="g" d="M3619 0L3659 -39V-22H3752V22H3659V39Z"/>
</g></g>

<g id="row11" class="gene">
<text class="lab" x="1040" y="1134"><tspan font-style="italic">Macrophomina phaseolina</tspan> MPI-SDFR-AT-0080</text>
<g transform="translate(0,1138)">
<line class="bb" x1="1082" y1="0" x2="3824" y2="0"/>
<rect class="rip" x="1082" y="-9" width="671" height="18"/>
<path class="g" d="M1776 -39L1792 0L1776 39Z"/>
<path class="g" d="M1817 0L1848 -39V39Z"/>
<path class="g" d="M1937 -22H1979V-39L2018 0L1979 39V22H1937Z"/>
<path class="mt1" d="M2061 0L2101 -39V-22H2128V22H2101V39Z"/>
<path class="tc" d="M2156 -39L2196 0L2156 39Z"/>
<path class="fad" d="M2206 0L2246 -39V-22H2279V22H2246V39Z"/>
<path class="sdr1" d="M2322 0L2362 -39V39Z"/>
<path class="pt" d="M2426 -22H2428V-39L2466 0L2428 39V22H2426Z"/>
<path class="sdr2" d="M2486 0L2524 -39V-22H2549V22H2524V39Z"/>
<path class="ts" d="M2587 -22H2599V-39L2637 0L2599 39V22H2587Z"/>
<path class="pks" d="M2676 -22H2950V-39L2990 0L2950 39V22H2676Z"/>
<path class="g" d="M3025 0L3064 -39V-22H3085V22H3064V39Z"/>
<path class="g" d="M3160 -22H3204V-39L3245 0L3204 39V22H3160Z"/>
<rect class="rip" x="3262" y="-9" width="552" height="18"/>
</g></g>

<g id="row12" class="gene">
<text class="lab" x="1040" y="1242"><tspan font-style="italic">Colletotrichum higginsianum</tspan> IMI1349063</text>
<g transform="translate(0,1246)">
<line class="bb" x1="1090" y1="0" x2="3828" y2="0"/>
<path class="ts" d="M1093 0L1132 -39V-22H1153V22H1132V39Z"/>
<path class="sdr2" d="M1219 -22H1248V-39L1288 0L1248 39V22H1219Z"/>
<path class="pt" d="M1312 0L1350 -39V-22H1365V22H1350V39Z"/>
<rect class="rip" x="1404" y="-9" width="409" height="18" rx="9"/>
<rect class="rip" x="1902" y="-9" width="410" height="18"/>
<path class="sdr1" d="M2322 -39L2362 0L2322 39Z"/>
<path class="tc" d="M2405 -39L2443 0L2405 39Z"/>
<path class="fad" d="M2476 0L2515 -39V-22H2551V22H2515V39Z"/>
<path class="g" d="M2583 0L2596 -39V39Z"/>
<path class="pks" d="M2676 -22H2949V-39L2989 0L2949 39V22H2676Z"/>
<path class="g" d="M3068 -22H3106V-39L3144 0L3106 39V22H3068Z"/>
<path class="g" d="M3160 0L3201 -39V-22H3210V22H3201V39Z"/>
<path class="g" d="M3231 -22H3351V-39L3389 0L3351 39V22H3231Z"/>
<path class="g" d="M3430 -22H3702V-39L3741 0L3702 39V22H3430Z"/>
</g></g>

<g id="row13" class="gene">
<text class="lab" x="1040" y="1349"><tspan font-style="italic">Ophiocordyceps camponoti-floridani</tspan> EC05</text>
<g transform="translate(0,1353)">
<line class="bb" x1="1080" y1="0" x2="3833" y2="0"/>
<path class="g" d="M1080 0L1119 -39V-22H1173V22H1119V39Z"/>
<path class="g" d="M1213 -22H1244V-39L1285 0L1244 39V22H1213Z"/>
<path class="g" d="M1285 0L1326 -39V-22H1341V22H1326V39Z"/>
<path class="g" d="M1390 -22H1456V-39L1494 0L1456 39V22H1390Z"/>
<path class="g" d="M1519 0L1558 -39V-22H1569V22H1558V39Z"/>
<path class="g" d="M1661 0L1700 -39V-22H1751V22H1700V39Z"/>
<path class="g" d="M1830 0L1869 -39V-22H1879V22H1869V39Z"/>
<path class="g" d="M1952 -22H2099V-39L2138 0L2099 39V22H1952Z"/>
<path class="fad" d="M2157 -22H2190V-39L2229 0L2190 39V22H2157Z"/>
<path class="g" d="M2242 0L2282 -39V-22H2289V22H2282V39Z"/>
<path class="g" d="M2333 -39L2373 0L2333 39Z"/>
<path class="tc" d="M2379 0L2416 -39V39Z"/>
<path class="sdr1" d="M2424 0L2463 -39V39Z"/>
<path class="pt" d="M2503 -22H2512V-39L2551 0L2512 39V22H2503Z"/>
<path class="mt2" d="M2581 0L2618 -39V-22H2643V22H2618V39Z"/>
<path class="pks" d="M2687 -22H2940V-39L2979 0L2940 39V22H2687Z"/>
<path class="g" d="M3185 -39L3214 0L3185 39Z"/>
<path class="g" d="M3216 -39L3252 0L3216 39Z"/>
<path class="g" d="M3262 -39L3285 0L3262 39Z"/>
<path class="g" d="M3345 -22H3426V-39L3464 0L3426 39V22H3345Z"/>
<path class="g" d="M3542 0L3580 -39V-22H3634V22H3580V39Z"/>
<path class="g" d="M3660 -39L3675 0L3660 39Z"/>
<path class="g" d="M3696 -39L3735 0L3696 39Z"/>
</g></g>

<g id="row14" class="gene">
<text class="lab" x="1040" y="1456"><tspan font-style="italic">Metarhizium anisopliae</tspan> E6</text>
<line class="brk" x1="1802" y1="1417" x2="1769" y2="1493"/>
<g transform="translate(0,1460)">
<line class="bb" x1="1790" y1="0" x2="3843" y2="0"/>
<path class="g" d="M1981 0L2018 -39V-22H2057V22H2018V39Z"/>
<path class="fad" d="M2157 0L2196 -39V-22H2249V22H2196V39Z"/>
<path class="ts" d="M2294 -22H2308V-39L2348 0L2308 39V22H2294Z"/>
<path class="pt" d="M2394 0L2433 -39V-22H2443V22H2433V39Z"/>
<path class="tc" d="M2497 -39L2532 0L2497 39Z"/>
<path class="pks" d="M2679 -22H2949V-39L2988 0L2949 39V22H2679Z"/>
<path class="g" d="M3036 0L3075 -39V-22H3092V22H3075V39Z"/>
<path class="g" d="M3156 -39L3181 0L3156 39Z"/>
<path class="g" d="M3239 0L3266 -39V39Z"/>
<path class="g" d="M3343 -22H3359V-39L3397 0L3359 39V22H3343Z"/>
<path class="g" d="M3440 -22H3492V-39L3530 0L3492 39V22H3440Z"/>
<path class="g" d="M3553 0L3593 -39V-22H3638V22H3593V39Z"/>
<path class="g" d="M3720 -22H3783V-39L3822 0L3783 39V22H3720Z"/>
</g></g>

<g id="scalebar">
<path d="M1074 1530H1190M1109 1517V1543M1190 1510V1550" stroke="#333" stroke-width="3" fill="none"/>
<text x="1074" y="1580" style="font-size:44px;fill:#333">2.5kb</text>
</g>

<g id="legend">
<g id="leg-mt1"><rect class="sw mt1" x="1295" y="1638" width="51" height="47"/><text class="leg" x="1378" y="1680">Methyl transferase 1</text></g>
<g id="leg-fad"><rect class="sw fad" x="1295" y="1723" width="51" height="47"/><text class="leg" x="1378" y="1765">FAD epoxidase</text></g>
<g id="leg-tc"><rect class="sw tc" x="1295" y="1808" width="51" height="47"/><text class="leg" x="1378" y="1850">Terpene cyclase</text></g>
<g id="leg-sdr1"><rect class="sw sdr1" x="1931" y="1638" width="51" height="47"/><text class="leg" x="2010" y="1680">SDR 1</text></g>
<g id="leg-pt"><rect class="sw pt" x="1931" y="1723" width="51" height="47"/><text class="leg" x="2010" y="1765">Prenyltransferase</text></g>
<g id="leg-sdr2"><rect class="sw sdr2" x="1931" y="1808" width="51" height="47"/><text class="leg" x="2010" y="1850">SDR 2</text></g>
<g id="leg-ts"><rect class="sw ts" x="2471" y="1638" width="51" height="47"/><text class="leg" x="2545" y="1680">Terpene synthase</text></g>
<g id="leg-p450"><rect class="sw p450" x="2471" y="1723" width="51" height="47"/><text class="leg" x="2545" y="1765">P450</text></g>
<g id="leg-mt2"><rect class="sw mt2" x="2471" y="1808" width="51" height="47"/><text class="leg" x="2545" y="1850">Methyl transferase 2</text></g>
<g id="leg-pks"><rect class="sw pks" x="3075" y="1638" width="51" height="47"/><text class="leg" x="3146" y="1680">NR-PKS</text></g>
<g id="leg-brk"><line class="brk" x1="3125" y1="1710" x2="3085" y2="1788"/><text class="leg" x="3146" y="1765">Contig break</text></g>
<g id="leg-rip"><rect class="rip" x="3044" y="1825" width="82" height="18"/><text class="leg" x="3146" y="1850">RIP-affected region</text></g>
</g>
</svg>
